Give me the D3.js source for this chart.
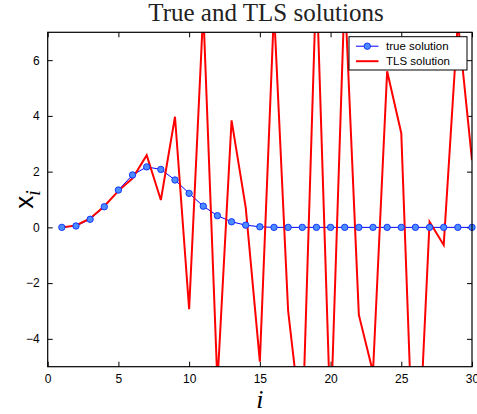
<!DOCTYPE html>
<html>
<head>
<meta charset="utf-8">
<script src="https://cdn.jsdelivr.net/npm/d3@7"></script>
<style>
  html, body { margin: 0; padding: 0; background: #fff; }
  svg { display: block; }
</style>
</head>
<body>
<svg id="chart" width="477" height="414"></svg>
<script>
// Solution index i = 1..30
const indices = d3.range(1, 31);

// Exact solution x_i
const trueSolution = [0, 0.05, 0.29, 0.74, 1.34, 1.88, 2.17, 2.08, 1.70, 1.22,
                      0.76, 0.42, 0.20, 0.08, 0.02, 0, 0, 0, 0, 0,
                      0, 0, 0, 0, 0, 0, 0, 0, 0, 0];

// Total least squares solution x_i
const tlsSolution = [0, 0.07, 0.32, 0.76, 1.31, 1.76, 2.59, 0.98, 3.97, -2.94,
                     7.8, -5.6, 3.84, 0.72, -4.82, 7.8, -3.0, -7.4, 9.0, -7.0,
                     8.5, -3.14, -5.2, 5.6, 3.38, -10.6, 0.2, -0.63, 7.4, 2.41];

const xTicks = [0, 5, 10, 15, 20, 25, 30];
const yTicks = [-4, -2, 0, 2, 4, 6];
const legendLabels = ["true solution", "TLS solution"];

const svg = d3.select("#chart");
const plot = { left: 47.7, right: 472, top: 32.3, bottom: 366.7 };

const x = d3.scaleLinear().domain([0, 30]).range([plot.left, plot.right]);
const y = d3.scaleLinear().domain([-5, 7]).range([plot.bottom, plot.top]);

svg.append("defs").append("clipPath").attr("id", "plot-clip")
  .append("rect")
  .attr("x", plot.left).attr("y", plot.top)
  .attr("width", plot.right - plot.left).attr("height", plot.bottom - plot.top);

// Axes: ticks point inward on all four sides
const tickFont = "'Liberation Sans', Arial, Helvetica, sans-serif";
const axisStyle = g => {
  g.selectAll("path.domain").remove();
  g.selectAll("line").attr("stroke", "#000").attr("stroke-width", 1);
  g.selectAll("text").attr("font-family", tickFont).attr("font-size", 12).attr("fill", "#000");
};
const fmt = d => d < 0 ? "\u2212" + Math.abs(d) : String(d);

svg.append("g").attr("transform", `translate(0,${plot.bottom})`)
  .call(d3.axisBottom(x).tickValues(xTicks).tickSize(-5).tickPadding(8).tickFormat(fmt))
  .call(axisStyle);
svg.append("g").attr("transform", `translate(0,${plot.top})`)
  .call(d3.axisTop(x).tickValues(xTicks).tickSize(-5).tickFormat(""))
  .call(axisStyle);
svg.append("g").attr("transform", `translate(${plot.left},0)`)
  .call(d3.axisLeft(y).tickValues(yTicks).tickSize(-5).tickPadding(8).tickFormat(fmt))
  .call(axisStyle);
svg.append("g").attr("transform", `translate(${plot.right},0)`)
  .call(d3.axisRight(y).tickValues(yTicks).tickSize(-5).tickFormat(""))
  .call(axisStyle);

const data = indices.map((i, k) => ({ i, t: trueSolution[k], s: tlsSolution[k] }));

const clipped = svg.append("g").attr("clip-path", "url(#plot-clip)");

// True solution: thin blue line with filled circle markers
clipped.append("path").datum(data)
  .attr("fill", "none").attr("stroke", "#0000ff").attr("stroke-width", 1)
  .attr("d", d3.line().x(d => x(d.i)).y(d => y(d.t)));

// TLS solution: red line
clipped.append("path").datum(data)
  .attr("fill", "none").attr("stroke", "#ff0000").attr("stroke-width", 2)
  .attr("stroke-linejoin", "miter")
  .attr("d", d3.line().x(d => x(d.i)).y(d => y(d.s)));

svg.append("g").selectAll("circle").data(data).join("circle")
  .attr("cx", d => x(d.i)).attr("cy", d => y(d.t)).attr("r", 3.2)
  .attr("fill", "#4d8cff").attr("stroke", "#0a2cff").attr("stroke-width", 0.9);

// Plot frame
svg.append("rect")
  .attr("x", plot.left).attr("y", plot.top)
  .attr("width", plot.right - plot.left).attr("height", plot.bottom - plot.top)
  .attr("fill", "none").attr("stroke", "#000").attr("stroke-width", 1.2);

// Title
svg.append("text")
  .attr("x", 266).attr("y", 21).attr("text-anchor", "middle")
  .attr("font-family", "'Liberation Serif', 'Times New Roman', serif")
  .attr("font-size", 25).attr("fill", "#222")
  .text("True and TLS solutions");

// x-axis label
svg.append("text")
  .attr("x", x(15)).attr("y", 408).attr("text-anchor", "middle")
  .attr("font-family", "'Liberation Serif', 'Times New Roman', serif")
  .attr("font-style", "italic").attr("font-size", 26).attr("fill", "#000")
  .text("i");

// y-axis label: x with italic subscript i
const yLab = svg.append("text")
  .attr("transform", `translate(33,${y(1)}) rotate(-90)`)
  .attr("text-anchor", "middle").attr("fill", "#000");
yLab.append("tspan")
  .attr("font-family", tickFont).attr("font-size", 26).text("x");
yLab.append("tspan")
  .attr("font-family", "'Liberation Serif', 'Times New Roman', serif")
  .attr("font-style", "italic").attr("font-size", 20).attr("dy", 7).text("i");

// Legend
const leg = { x: 349, y: 36.7, w: 118, h: 33.3 };
const lg = svg.append("g");
lg.append("rect")
  .attr("x", leg.x).attr("y", leg.y).attr("width", leg.w).attr("height", leg.h)
  .attr("fill", "#fff").attr("stroke", "#000").attr("stroke-width", 1);
const rows = [leg.y + 9.5, leg.y + 24.5];
lg.append("line").attr("x1", leg.x + 7).attr("x2", leg.x + 29.5)
  .attr("y1", rows[0]).attr("y2", rows[0]).attr("stroke", "#0000ff").attr("stroke-width", 1);
lg.append("circle").attr("cx", leg.x + 18.3).attr("cy", rows[0]).attr("r", 3.2)
  .attr("fill", "#4d8cff").attr("stroke", "#0a2cff").attr("stroke-width", 0.9);
lg.append("line").attr("x1", leg.x + 7).attr("x2", leg.x + 29.5)
  .attr("y1", rows[1]).attr("y2", rows[1]).attr("stroke", "#ff0000").attr("stroke-width", 2);
lg.selectAll("text.lab").data(legendLabels).join("text")
  .attr("class", "lab")
  .attr("x", leg.x + 37).attr("y", (d, k) => rows[k] + 4)
  .attr("font-family", tickFont).attr("font-size", 11.5).attr("fill", "#000")
  .text(d => d);
</script>
</body>
</html>
